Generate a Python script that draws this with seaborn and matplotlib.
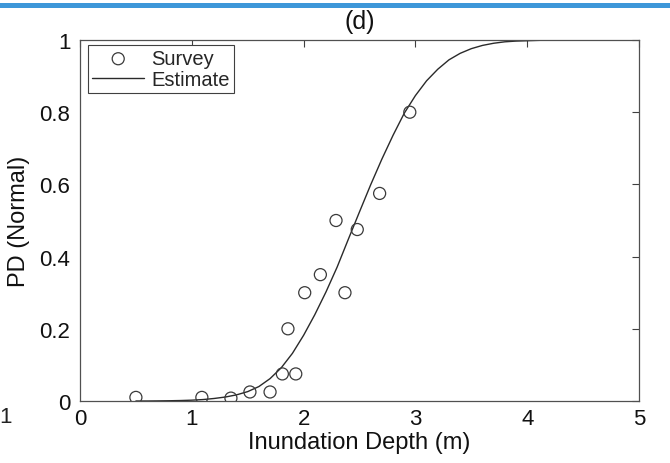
import matplotlib
matplotlib.use("Agg")
import numpy as np
import pandas as pd
import seaborn as sns
import matplotlib.pyplot as plt
from matplotlib.patches import Rectangle

# ---- data ----
survey_depth = [0.50, 1.09, 1.35, 1.52, 1.70, 1.81, 1.93, 1.86, 2.01, 2.15, 2.29, 2.37, 2.48, 2.68, 2.95]
survey_pd = [0.01, 0.01, 0.008, 0.025, 0.025, 0.075, 0.075, 0.2, 0.3, 0.35, 0.5, 0.3, 0.475, 0.575, 0.8]

estimate_depth = [0.5, 0.6, 0.7, 0.8, 0.9, 1.0, 1.1, 1.2, 1.3, 1.4, 1.5, 1.6, 1.7, 1.8, 1.9,
                  2.0, 2.1, 2.2, 2.3, 2.4, 2.5, 2.6, 2.7, 2.8, 2.9, 3.0, 3.1, 3.2, 3.3, 3.4,
                  3.5, 3.6, 3.7, 3.8, 3.9, 4.0, 4.1, 4.2, 4.3]
estimate_pd = [0.0, 0.0, 0.0003, 0.0007, 0.0013, 0.0023, 0.004, 0.007, 0.011, 0.017, 0.026,
               0.040, 0.062, 0.092, 0.132, 0.182, 0.239, 0.302, 0.371, 0.448, 0.524, 0.599,
               0.670, 0.736, 0.797, 0.846, 0.887, 0.919, 0.945, 0.963, 0.976, 0.985, 0.991,
               0.995, 0.997, 0.998, 0.999, 1.0, 1.0]

x_ticks = [0, 1, 2, 3, 4, 5]
y_ticks = [0, 0.2, 0.4, 0.6, 0.8, 1]
y_tick_labels = ["0", "0.2", "0.4", "0.6", "0.8", "1"]

sns.set_style("white")
plt.rcParams["font.family"] = ["Liberation Sans", "DejaVu Sans"]

fig = plt.figure(figsize=(6.7, 4.64), dpi=100)
ax = fig.add_axes([80 / 670, 62 / 464, 559 / 670, 361 / 464])

survey_df = pd.DataFrame({"depth": survey_depth, "pd": survey_pd})
est_df = pd.DataFrame({"depth": estimate_depth, "pd": estimate_pd})

sns.scatterplot(data=survey_df, x="depth", y="pd", ax=ax, marker="o", s=75,
                facecolor="none", edgecolor="#3a3a3a", linewidth=0.9, label="Survey", zorder=3)
sns.lineplot(data=est_df, x="depth", y="pd", ax=ax, color="#2a2a2a", linewidth=1.0,
             estimator=None, sort=False, label="Estimate", zorder=2)

ax.set_xlim(0, 5)
ax.set_ylim(0, 1)
ax.set_xticks(x_ticks)
ax.set_xticklabels([str(t) for t in x_ticks])
ax.set_yticks(y_ticks)
ax.set_yticklabels(y_tick_labels)

ax.tick_params(direction="in", length=5, width=0.8, color="#404040", labelsize=16,
               top=True, right=True, labelcolor="#111111")
ax.tick_params(axis="x", pad=5)
ax.tick_params(axis="y", pad=7)
for sp in ax.spines.values():
    sp.set_color("#505050")
    sp.set_linewidth(0.9)

ax.set_xlabel("Inundation Depth (m)", fontsize=17, color="#111111")
ax.set_ylabel("PD (Normal)", fontsize=17, color="#111111")
ax.xaxis.set_label_coords(0.5, -0.083)
ax.yaxis.set_label_coords(-0.09, 0.5)
ax.set_title("(d)", fontsize=18, pad=9, color="#111111")

leg = ax.legend(loc="upper left", bbox_to_anchor=(8 / 559, 1 - 5 / 361), borderaxespad=0,
                fontsize=14.5, frameon=True, fancybox=False, framealpha=1,
                edgecolor="#404040", handlelength=2.6, handletextpad=0.35,
                labelspacing=0.12, borderpad=0.2)
leg.get_frame().set_linewidth(0.8)

# decorations visible at the edges of the reference picture
fig.add_artist(Rectangle((0, 1 - 9 / 464), 1, 5 / 464, transform=fig.transFigure,
                         color="#3d97d9", lw=0))
fig.text(-1 / 670, 1 - 418 / 464, "1", fontsize=16, ha="left", va="center", color="#222222")

fig.savefig("out.png", dpi=100)
